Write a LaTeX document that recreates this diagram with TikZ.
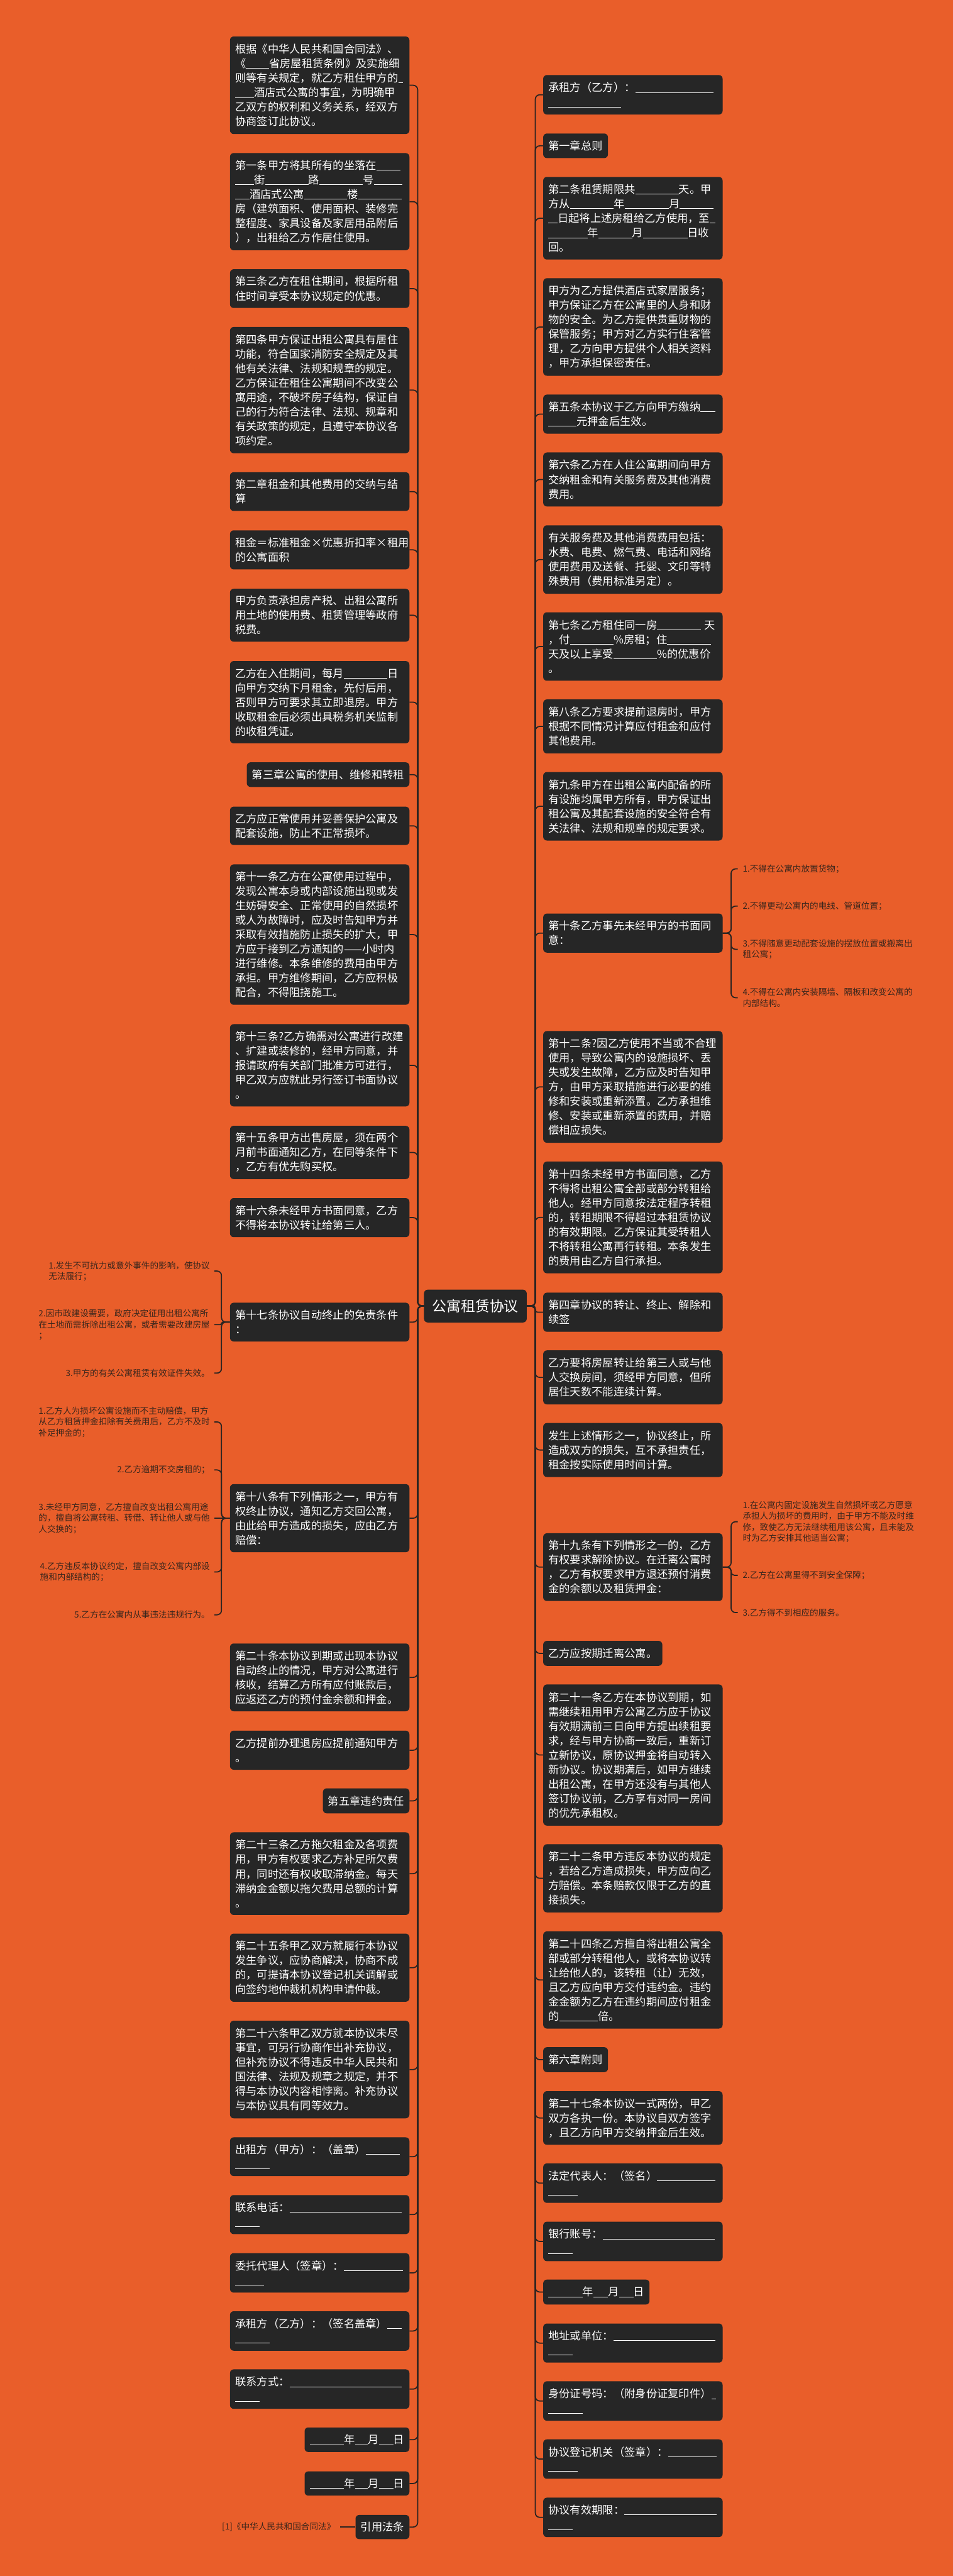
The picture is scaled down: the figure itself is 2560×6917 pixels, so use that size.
\documentclass[tikz,border=0pt]{standalone}
\usepackage{fontspec}
\setmainfont{Noto Sans CJK SC}
\definecolor{bg}{RGB}{233,94,42}
\definecolor{boxc}{RGB}{38,38,38}
\definecolor{linec}{RGB}{42,36,33}
\definecolor{leafc}{RGB}{58,38,28}
\newcommand\bl[1]{\rule[-3pt]{#1pt}{1.6pt}}
\begin{document}
\begin{tikzpicture}[x=1pt,y=-1pt,
 box/.style={fill=boxc, text=white, rounded corners=10pt, inner xsep=14pt, inner ysep=0pt, font=\fontsize{29.2pt}{38.9pt}\selectfont, align=left},
 lb/.style={box, anchor=east, text width=454pt},
 ln/.style={box, anchor=east},
 rb/.style={box, anchor=west, text width=454pt},
 rn/.style={box, anchor=west},
 leafl/.style={text=leafc, font=\fontsize{23pt}{29.5pt}\selectfont, align=left, inner xsep=12pt, inner ysep=0pt, anchor=east},
 leafr/.style={text=leafc, font=\fontsize{23pt}{29.5pt}\selectfont, align=left, inner xsep=13pt, inner ysep=0pt, anchor=west},
 conn/.style={draw=linec, line width=3pt, rounded corners=12pt}]
\useasboundingbox (0,0) rectangle (2560,6917);
\fill[bg] (0,0) rectangle (2560,6917);

% root
\node[box, anchor=center, inner xsep=22.5pt, minimum height=88, font=\fontsize{38.5pt}{46pt}\selectfont] (root) at (1277,3507) {公寓租赁协议};

% left column
\node[lb, minimum height=262] (L1) at (1100,229) {根据《中华人民共和国合同法》、\\《\bl{62}省房屋租赁条例》及实施细\\则等有关规定，就乙方租住甲方的\bl{12}\\\bl{51}酒店式公寓的事宜，为明确甲\\乙双方的权利和义务关系，经双方\\协商签订此协议。};
\node[lb, minimum height=261] (L2) at (1100,541.5) {第一条甲方将其所有的坐落在\bl{65}\\\bl{51}街\bl{117}路\bl{117}号\bl{77}\\\bl{39}酒店式公寓\bl{116}楼\bl{117}\\房（建筑面积、使用面积、装修完\\整程度、家具设备及家居用品附后\\），出租给乙方作居住使用。};
\node[lb, minimum height=104] (L3) at (1100,775) {第三条乙方在租住期间，根据所租\\住时间享受本协议规定的优惠。};
\node[lb, minimum height=339] (L4) at (1100,1047.5) {第四条甲方保证出租公寓具有居住\\功能，符合国家消防安全规定及其\\他有关法律、法规和规章的规定。\\乙方保证在租住公寓期间不改变公\\寓用途，不破坏房子结构，保证自\\己的行为符合法律、法规、规章和\\有关政策的规定，且遵守本协议各\\项约定。};
\node[lb, minimum height=104] (L5) at (1100,1320) {第二章租金和其他费用的交纳与结\\算};
\node[lb, minimum height=105] (L6) at (1100,1476.5) {租金＝标准租金×优惠折扣率×租用\\的公寓面积};
\node[lb, minimum height=142] (L7) at (1100,1652) {甲方负责承担房产税、出租公寓所\\用土地的使用费、租赁管理等政府\\税费。};
\node[lb, minimum height=221] (L8) at (1100,1885.5) {乙方在入住期间，每月\bl{117}日\\向甲方交纳下月租金，先付后用，\\否则甲方可要求其立即退房。甲方\\收取租金后必须出具税务机关监制\\的收租凭证。};
\node[ln, minimum height=66] (L9) at (1100,2080) {第三章公寓的使用、维修和转租};
\node[lb, minimum height=103] (L10) at (1100,2217.5) {乙方应正常使用并妥善保护公寓及\\配套设施，防止不正常损坏。};
\node[lb, minimum height=377] (L11) at (1100,2509.5) {第十一条乙方在公寓使用过程中，\\发现公寓本身或内部设施出现或发\\生妨碍安全、正常使用的自然损坏\\或人为故障时，应及时告知甲方并\\采取有效措施防止损失的扩大，甲\\方应于接到乙方通知的——小时内\\进行维修。本条维修的费用由甲方\\承担。甲方维修期间，乙方应积极\\配合，不得阻挠施工。};
\node[lb, minimum height=221] (L12) at (1100,2860.5) {第十三条?乙方确需对公寓进行改建\\、扩建或装修的，经甲方同意，并\\报请政府有关部门批准方可进行，\\甲乙双方应就此另行签订书面协议\\。};
\node[lb, minimum height=143] (L13) at (1100,3094.5) {第十五条甲方出售房屋，须在两个\\月前书面通知乙方，在同等条件下\\，乙方有优先购买权。};
\node[lb, minimum height=105] (L14) at (1100,3269.5) {第十六条未经甲方书面同意，乙方\\不得将本协议转让给第三人。};
\node[lb, minimum height=104] (L15) at (1100,3550) {第十七条协议自动终止的免责条件\\：};
\node[lb, minimum height=183] (L16) at (1100,4076.5) {第十八条有下列情形之一，甲方有\\权终止协议，通知乙方交回公寓，\\由此给甲方造成的损失，应由乙方\\赔偿：};
\node[lb, minimum height=182] (L17) at (1100,4504) {第二十条本协议到期或出现本协议\\自动终止的情况，甲方对公寓进行\\核收，结算乙方所有应付账款后，\\应返还乙方的预付金余额和押金。};
\node[lb, minimum height=105] (L18) at (1100,4699.5) {乙方提前办理退房应提前通知甲方\\。};
\node[ln, minimum height=67] (L19) at (1100,4835.5) {第五章违约责任};
\node[lb, minimum height=222] (L20) at (1100,5031) {第二十三条乙方拖欠租金及各项费\\用，甲方有权要求乙方补足所欠费\\用，同时还有权收取滞纳金。每天\\滞纳金金额以拖欠费用总额的计算\\。};
\node[lb, minimum height=183] (L21) at (1100,5283.5) {第二十五条甲乙双方就履行本协议\\发生争议，应协商解决，协商不成\\的，可提请本协议登记机关调解或\\向签约地仲裁机机构申请仲裁。};
\node[lb, minimum height=262] (L22) at (1100,5557) {第二十六条甲乙双方就本协议未尽\\事宜，可另行协商作出补充协议，\\但补充协议不得违反中华人民共和\\国法律、法规及规章之规定，并不\\得与本协议内容相悖离。补充协议\\与本协议具有同等效力。};
\node[lb, minimum height=104] (L23) at (1100,5791) {出租方（甲方）：（盖章）\bl{92}\\\bl{92}};
\node[lb, minimum height=105] (L24) at (1100,5946.5) {联系电话：\bl{302}\\\bl{65}};
\node[lb, minimum height=106] (L25) at (1100,6103) {委托代理人（签章）：\bl{158}\\\bl{78}};
\node[lb, minimum height=106] (L26) at (1100,6259) {承租方（乙方）：（签名盖章）\bl{39}\\\bl{92}};
\node[lb, minimum height=106] (L27) at (1100,6415) {联系方式：\bl{302}\\\bl{65}};
\node[ln, minimum height=66] (L28) at (1100,6551) {\bl{92}年\bl{35}月\bl{39}日};
\node[ln, minimum height=65] (L29) at (1100,6668.5) {\bl{92}年\bl{35}月\bl{39}日};
\node[ln, minimum height=65] (L30) at (1100,6785.5) {引用法条};

% right column
\node[rb, minimum height=106] (R1) at (1459,254.5) {承租方（乙方）：\bl{210}\\\bl{196}};
\node[rn, minimum height=66] (R2) at (1459,391.5) {第一章总则};
\node[rb, minimum height=222] (R3) at (1459,586) {第二条租赁期限共\bl{117}天。甲\\方从\bl{117}年\bl{119}月\bl{91}\\\bl{25}日起将上述房租给乙方使用，至\bl{14}\\\bl{105}年\bl{91}月\bl{119}日收\\回。};
\node[rb, minimum height=262] (R4) at (1459,878) {甲方为乙方提供酒店式家居服务；\\甲方保证乙方在公寓里的人身和财\\物的安全。为乙方提供贵重财物的\\保管服务；甲方对乙方实行住客管\\理，乙方向甲方提供个人相关资料\\，甲方承担保密责任。};
\node[rb, minimum height=105] (R5) at (1459,1112) {第五条本协议于乙方向甲方缴纳\bl{39}\\\bl{76}元押金后生效。};
\node[rb, minimum height=145] (R6) at (1459,1287.5) {第六条乙方在人住公寓期间向甲方\\交纳租金和有关服务费及其他消费\\费用。};
\node[rb, minimum height=184] (R7) at (1459,1502.5) {有关服务费及其他消费费用包括：\\水费、电费、燃气费、电话和网络\\使用费用及送餐、托婴、文印等特\\殊费用（费用标准另定）。};
\node[rb, minimum height=184] (R8) at (1459,1736) {第七条乙方租住同一房\bl{117} 天\\，付\bl{117}\%房租；住\bl{117}\\天及以上享受\bl{117}\%的优惠价\\。};
\node[rb, minimum height=145] (R9) at (1459,1950.5) {第八条乙方要求提前退房时，甲方\\根据不同情况计算应付租金和应付\\其他费用。};
\node[rb, minimum height=184] (R10) at (1459,2165) {第九条甲方在出租公寓内配备的所\\有设施均属甲方所有，甲方保证出\\租公寓及其配套设施的安全符合有\\关法律、法规和规章的规定要求。};
\node[rb, minimum height=105] (R11) at (1459,2505.5) {第十条乙方事先未经甲方的书面同\\意：};
\node[rb, minimum height=300] (R12) at (1459,2918.5) {第十二条?因乙方使用不当或不合理\\使用，导致公寓内的设施损坏、丢\\失或发生故障，乙方应及时告知甲\\方，由甲方采取措施进行必要的维\\修和安装或重新添置。乙方承担维\\修、安装或重新添置的费用，并赔\\偿相应损失。};
\node[rb, minimum height=300] (R13) at (1459,3269) {第十四条未经甲方书面同意，乙方\\不得将出租公寓全部或部分转租给\\他人。经甲方同意按法定程序转租\\的，转租期限不得超过本租赁协议\\的有效期限。乙方保证其受转租人\\不将转租公寓再行转租。本条发生\\的费用由乙方自行承担。};
\node[rb, minimum height=105] (R14) at (1459,3523.5) {第四章协议的转让、终止、解除和\\续签};
\node[rb, minimum height=145] (R15) at (1459,3698.5) {乙方要将房屋转让给第三人或与他\\人交换房间，须经甲方同意，但所\\居住天数不能连续计算。};
\node[rb, minimum height=145] (R16) at (1459,3893.5) {发生上述情形之一，协议终止，所\\造成双方的损失，互不承担责任，\\租金按实际使用时间计算。};
\node[rb, minimum height=182] (R17) at (1459,4208) {第十九条有下列情形之一的，乙方\\有权要求解除协议。在迁离公寓时\\，乙方有权要求甲方退还预付消费\\金的余额以及租赁押金：};
\node[rn, minimum height=67] (R18) at (1459,4439.5) {乙方应按期迁离公寓。};
\node[rb, minimum height=379] (R19) at (1459,4712.5) {第二十一条乙方在本协议到期，如\\需继续租用甲方公寓乙方应于协议\\有效期满前三日向甲方提出续租要\\求，经与甲方协商一致后，重新订\\立新协议，原协议押金将自动转入\\新协议。协议期满后，如甲方继续\\出租公寓，在甲方还没有与其他人\\签订协议前，乙方享有对同一房间\\的优先承租权。};
\node[rb, minimum height=183] (R20) at (1459,5043.5) {第二十二条甲方违反本协议的规定\\，若给乙方造成损失，甲方应向乙\\方赔偿。本条赔款仅限于乙方的直\\接损失。};
\node[rb, minimum height=261] (R21) at (1459,5316.5) {第二十四条乙方擅自将出租公寓全\\部或部分转租他人，或将本协议转\\让给他人的，该转租（让）无效，\\且乙方应向甲方交付违约金。违约\\金金额为乙方在违约期间应付租金\\的\bl{104}倍。};
\node[rn, minimum height=67] (R22) at (1459,5530.5) {第六章附则};
\node[rb, minimum height=144] (R23) at (1459,5687) {第二十七条本协议一式两份，甲乙\\双方各执一份。本协议自双方签字\\，且乙方向甲方交纳押金后生效。};
\node[rb, minimum height=106] (R24) at (1459,5862) {法定代表人：（签名）\bl{157}\\\bl{78}};
\node[rb, minimum height=106] (R25) at (1459,6018.5) {银行账号：\bl{301}\\\bl{65}};
\node[rn, minimum height=67] (R26) at (1459,6154.5) {\bl{92}年\bl{39}月\bl{39}日};
\node[rb, minimum height=105] (R27) at (1459,6291.5) {地址或单位：\bl{274}\\\bl{65}};
\node[rb, minimum height=106] (R28) at (1459,6447) {身份证号码：（附身份证复印件）\bl{13}\\\bl{92}};
\node[rb, minimum height=106] (R29) at (1459,6603) {协议登记机关（签章）：\bl{130}\\\bl{78}};
\node[rb, minimum height=106] (R30) at (1459,6759.5) {协议有效期限：\bl{247}\\\bl{65}};

% leaves
\node[leafl] (g1) at (576,3413) {1.发生不可抗力或意外事件的影响，使协议\\无法履行；};
\node[leafl] (g2) at (576,3557) {2.因市政建设需要，政府决定征用出租公寓所\\在土地而需拆除出租公寓，或者需要改建房屋\\；};
\node[leafl] (g3) at (576,3687) {3.甲方的有关公寓租赁有效证件失效。};
\node[leafl] (h1) at (576,3818) {1.乙方人为损坏公寓设施而不主动赔偿，甲方\\从乙方租赁押金扣除有关费用后，乙方不及时\\补足押金的；};
\node[leafl] (h2) at (576,3947) {2.乙方逾期不交房租的；};
\node[leafl] (h3) at (576,4076.5) {3.未经甲方同意，乙方擅自改变出租公寓用途\\的，擅自将公寓转租、转借、转让他人或与他\\人交换的；};
\node[leafl] (h4) at (576,4221) {4.乙方违反本协议约定，擅自改变公寓内部设\\施和内部结构的；};
\node[leafl] (h5) at (576,4336) {5.乙方在公寓内从事违法违规行为。};
\node[leafl] (ref) at (913,6785.5) {[1]《中华人民共和国合同法》};

\node[leafr] (k1) at (1982,2333) {1.不得在公寓内放置货物；};
\node[leafr] (k2) at (1982,2433) {2.不得更动公寓内的电线、管道位置；};
\node[leafr] (k3) at (1982,2549) {3.不得随意更动配套设施的摆放位置或搬离出\\租公寓；};
\node[leafr] (k4) at (1982,2679) {4.不得在公寓内安装隔墙、隔板和改变公寓的\\内部结构。};
\node[leafr] (m1) at (1982,4086) {1.在公寓内固定设施发生自然损坏或乙方愿意\\承担人为损坏的费用时，由于甲方不能及时维\\修，致使乙方无法继续租用该公寓，且未能及\\时为乙方安排其他适当公寓；};
\node[leafr] (m2) at (1982,4230) {2.乙方在公寓里得不到安全保障；};
\node[leafr] (m3) at (1982,4330) {3.乙方得不到相应的服务。};

% connectors root -> left
\foreach \n in {L1,L2,L3,L4,L5,L6,L7,L8,L9,L10,L11,L12,L13,L14,L15,L16,L17,L18,L19,L20,L21,L22,L23,L24,L25,L26,L27,L28,L29,L30}
  \draw[conn] (root.west) -- (1122,3507) |- (\n.east);
% connectors root -> right
\foreach \n in {R1,R2,R3,R4,R5,R6,R7,R8,R9,R10,R11,R12,R13,R15,R16,R17,R18,R19,R20,R21,R22,R23,R24,R25,R26,R27,R28,R29,R30}
  \draw[conn] (root.east) -- (1438,3507) |- (\n.west);
\draw[conn, rounded corners=6pt] (root.east) -- (1438,3507) |- (R14.west);

% grandchildren
\foreach \n in {g1,g3}
  \draw[conn] (L15.west) -- (595,3550) |- (\n.east);
\draw[conn, rounded corners=3pt] (L15.west) -- (595,3550) |- (g2.east);
\foreach \n in {h1,h2,h4,h5}
  \draw[conn] (L16.west) -- (595,4076.5) |- (\n.east);
\draw[conn] (L16.west) -- (h3.east);
\foreach \n in {k1,k2,k3,k4}
  \draw[conn] (R11.east) -- (1964,2505.5) |- (\n.west);
\foreach \n in {m1,m3}
  \draw[conn] (R17.east) -- (1964,4208) |- (\n.west);
\draw[conn, rounded corners=9pt] (R17.east) -- (1964,4208) |- (m2.west);
\draw[conn] (L30.west) -- (ref.east);
\end{tikzpicture}
\end{document}
